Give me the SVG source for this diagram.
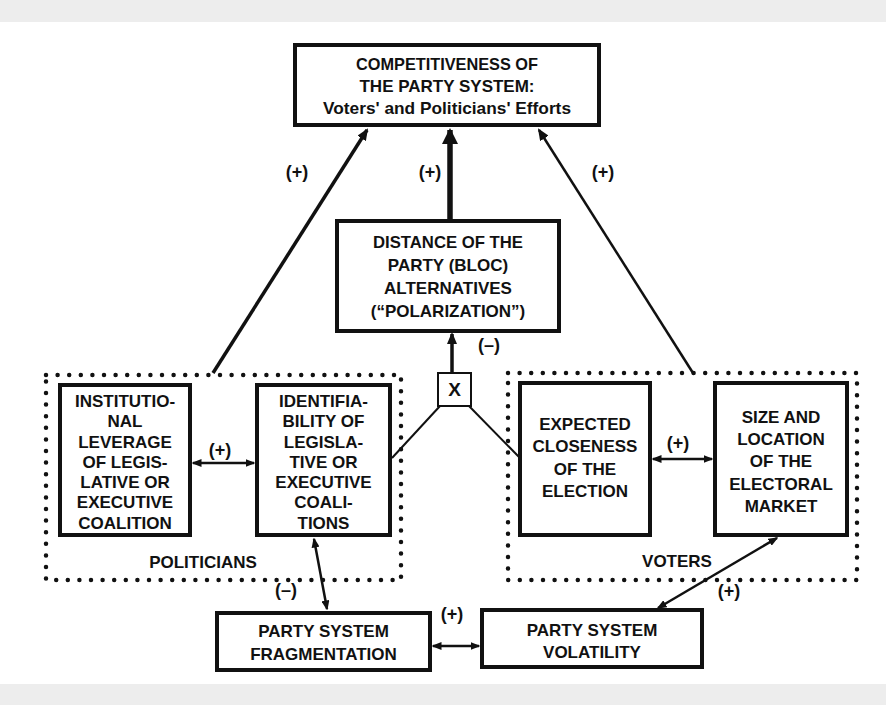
<svg xmlns="http://www.w3.org/2000/svg" width="886" height="705" viewBox="0 0 886 705">
<style>
.t{font-family:"Liberation Sans",Arial,sans-serif;font-weight:bold;font-size:17px;text-anchor:middle;fill:#111}
.lb{font-size:18px}
.box{fill:#fff;stroke:#111;stroke-width:4}
.dot{fill:none;stroke:#111;stroke-width:4.5;stroke-dasharray:0 11.6;stroke-linecap:round}
.ln{fill:none;stroke:#111}
</style>
<defs>
<marker id="ah" markerUnits="userSpaceOnUse" viewBox="0 0 12 10" markerWidth="12" markerHeight="10" refX="10" refY="5" orient="auto-start-reverse"><path d="M0,0 L12,5 L0,10 z" fill="#111"/></marker>
<marker id="ahs" markerUnits="userSpaceOnUse" viewBox="0 0 10 8" markerWidth="10" markerHeight="8" refX="8.5" refY="4" orient="auto-start-reverse"><path d="M0,0 L10,4 L0,8 z" fill="#111"/></marker>
<marker id="ahb" markerUnits="userSpaceOnUse" viewBox="0 0 16 16" markerWidth="16" markerHeight="16" refX="14" refY="8" orient="auto"><path d="M0,0 L16,8 L0,16 z" fill="#111"/></marker>
</defs>
<rect width="886" height="705" fill="#fff"/>
<rect x="0" y="0" width="886" height="22" fill="#dcdcdc" opacity="0.5"/>
<rect x="0" y="684" width="886" height="21" fill="#dcdcdc" opacity="0.5"/>

<g id="connectors">
<path class="ln" d="M213,373 L367,130" stroke-width="3.5" marker-end="url(#ah)"/>
<path class="ln" d="M450,219 L450,130" stroke-width="5.5" marker-end="url(#ahb)"/>
<path class="ln" d="M693,373 L539,130" stroke-width="2.5" marker-end="url(#ah)"/>
<path class="ln" d="M452,373 L452,334" stroke-width="3.5" marker-end="url(#ah)"/>
<path class="ln" d="M440,406 L392,458" stroke-width="2"/>
<path class="ln" d="M469,406 L519,457" stroke-width="2"/>
<path class="ln" d="M193,463 L254,463" stroke-width="2.5" marker-start="url(#ahs)" marker-end="url(#ahs)"/>
<path class="ln" d="M653,459 L712,459" stroke-width="2.5" marker-start="url(#ahs)" marker-end="url(#ahs)"/>
<path class="ln" d="M314,539 L327,609" stroke-width="2.5" marker-start="url(#ahs)" marker-end="url(#ahs)"/>
<path class="ln" d="M433,646 L479,646" stroke-width="2.5" marker-start="url(#ahs)" marker-end="url(#ahs)"/>
<path class="ln" d="M658,608 L777,538" stroke-width="2.5" marker-start="url(#ahs)" marker-end="url(#ahs)"/>
</g>

<g id="politicians-group">
<rect class="dot" x="46" y="375" width="355" height="205"/>
<text class="t" x="203" y="568">POLITICIANS</text>
</g>
<g id="voters-group">
<rect class="dot" x="508" y="373" width="349" height="207"/>
<text class="t" x="677" y="567">VOTERS</text>
</g>

<g id="competitiveness">
<rect class="box" x="295" y="45" width="304" height="80"/>
<text class="t" x="447" y="70" textLength="182" lengthAdjust="spacingAndGlyphs">COMPETITIVENESS OF</text>
<text class="t" x="447" y="92">THE PARTY SYSTEM:</text>
<text class="t" x="447" y="114" textLength="248" lengthAdjust="spacingAndGlyphs">Voters' and Politicians' Efforts</text>
</g>

<g id="distance">
<rect class="box" x="337" y="221" width="222" height="110"/>
<text class="t" x="448" y="248" textLength="150" lengthAdjust="spacingAndGlyphs">DISTANCE OF THE</text>
<text class="t" x="448" y="271">PARTY (BLOC)</text>
<text class="t" x="448" y="294">ALTERNATIVES</text>
<text class="t" x="448" y="317">(“POLARIZATION”)</text>
</g>

<g id="x-node">
<rect x="438" y="373" width="33" height="33" fill="#fff" stroke="#111" stroke-width="2"/>
<text class="t" x="454.5" y="396" style="font-size:19px">X</text>
</g>

<g id="institutional">
<rect class="box" x="60" y="385" width="130" height="150"/>
<text class="t" x="125" y="407">INSTITUTIO-</text>
<text class="t" x="125" y="427">NAL</text>
<text class="t" x="125" y="447.5">LEVERAGE</text>
<text class="t" x="125" y="467.5">OF LEGIS-</text>
<text class="t" x="125" y="488">LATIVE OR</text>
<text class="t" x="125" y="508">EXECUTIVE</text>
<text class="t" x="125" y="528.5">COALITION</text>
</g>

<g id="identifiability">
<rect class="box" x="257" y="385" width="133" height="150"/>
<text class="t" x="323.5" y="407">IDENTIFIA-</text>
<text class="t" x="323.5" y="427">BILITY OF</text>
<text class="t" x="323.5" y="447.5">LEGISLA-</text>
<text class="t" x="323.5" y="467.5">TIVE OR</text>
<text class="t" x="323.5" y="488">EXECUTIVE</text>
<text class="t" x="323.5" y="508">COALI-</text>
<text class="t" x="323.5" y="528.5">TIONS</text>
</g>

<g id="closeness">
<rect class="box" x="520" y="383" width="130" height="152"/>
<text class="t" x="585" y="430">EXPECTED</text>
<text class="t" x="585" y="452">CLOSENESS</text>
<text class="t" x="585" y="475">OF THE</text>
<text class="t" x="585" y="497">ELECTION</text>
</g>

<g id="market">
<rect class="box" x="715" y="383" width="132" height="152"/>
<text class="t" x="781" y="423">SIZE AND</text>
<text class="t" x="781" y="445">LOCATION</text>
<text class="t" x="781" y="467">OF THE</text>
<text class="t" x="781" y="490">ELECTORAL</text>
<text class="t" x="781" y="512">MARKET</text>
</g>

<g id="fragmentation">
<rect class="box" x="217" y="613" width="213" height="57"/>
<text class="t" x="323.5" y="637">PARTY SYSTEM</text>
<text class="t" x="323.5" y="660">FRAGMENTATION</text>
</g>

<g id="volatility">
<rect class="box" x="482" y="610" width="220" height="57"/>
<text class="t" x="592" y="636">PARTY SYSTEM</text>
<text class="t" x="592" y="658">VOLATILITY</text>
</g>

<g id="labels">
<text class="t lb" x="297" y="178">(+)</text>
<text class="t lb" x="430" y="178">(+)</text>
<text class="t lb" x="603" y="178">(+)</text>
<text class="t lb" x="489" y="351">(–)</text>
<text class="t lb" x="220" y="456">(+)</text>
<text class="t lb" x="678" y="449">(+)</text>
<text class="t lb" x="286" y="596">(–)</text>
<text class="t lb" x="452" y="620">(+)</text>
<text class="t lb" x="729" y="597">(+)</text>
</g>
</svg>
